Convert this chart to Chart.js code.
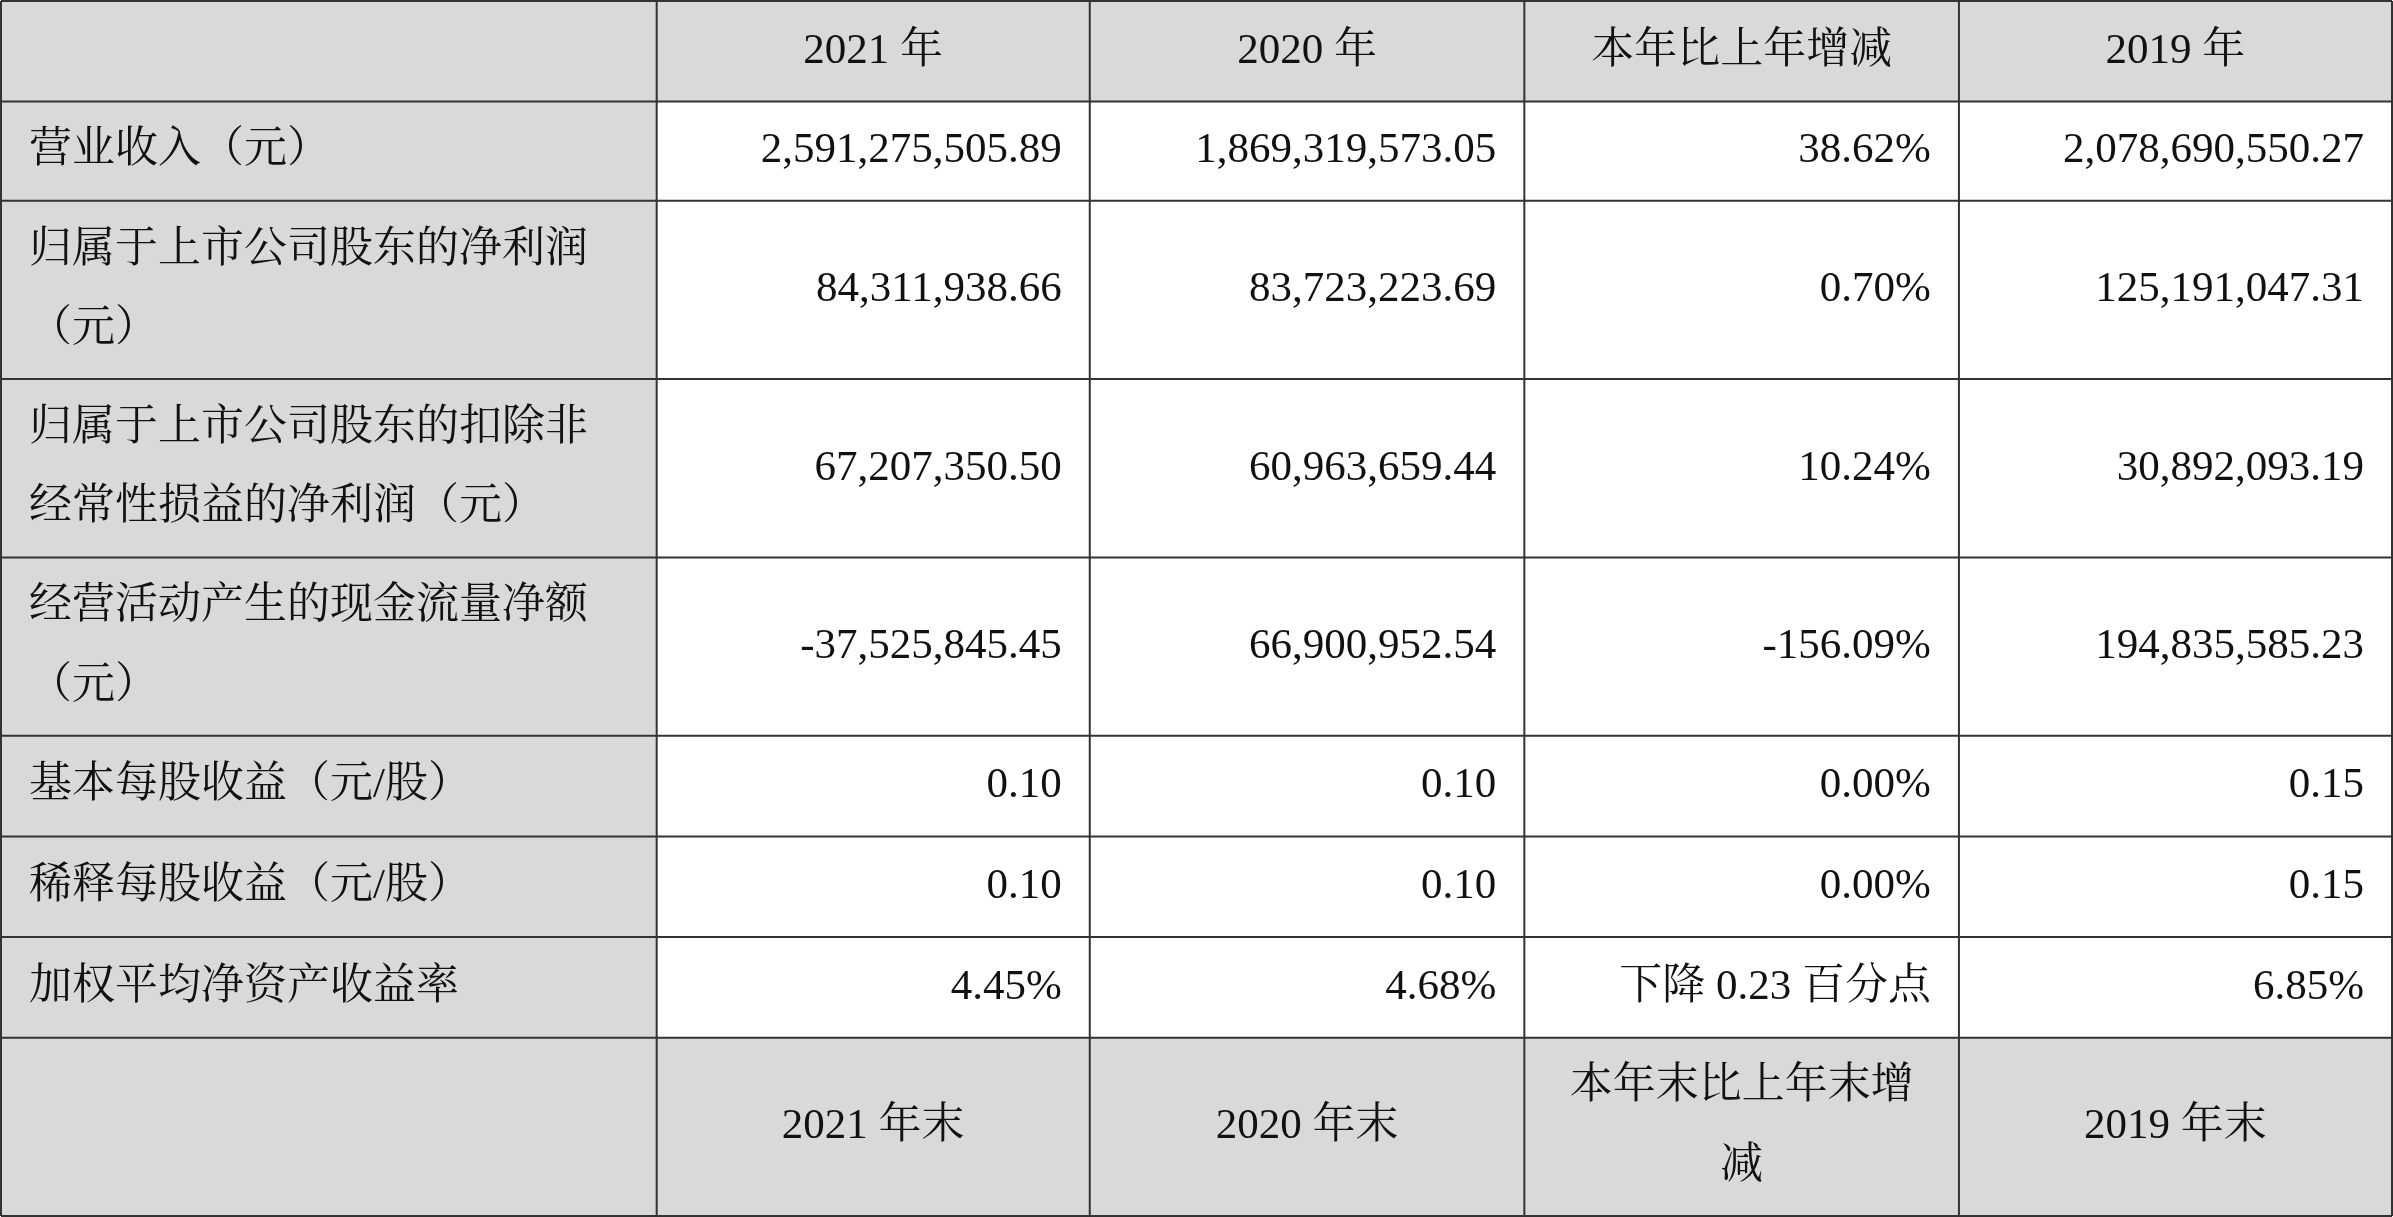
<!DOCTYPE html>
<html>
<head>
<meta charset="utf-8">
<script src="https://cdn.jsdelivr.net/npm/chart.js@4"></script>
<style>
  html, body { margin: 0; padding: 0; background: #fff; }
  #wrap { width: 2393px; height: 1217px; }
</style>
</head>
<body>
<div id="wrap"><canvas id="tableChart"></canvas></div>
<script>
const headers = ["", "2021 年", "2020 年", "本年比上年增减", "2019 年"];
const rowLabels = [
  ["营业收入（元）"],
  ["归属于上市公司股东的净利润", "（元）"],
  ["归属于上市公司股东的扣除非", "经常性损益的净利润（元）"],
  ["经营活动产生的现金流量净额", "（元）"],
  ["基本每股收益（元/股）"],
  ["稀释每股收益（元/股）"],
  ["加权平均净资产收益率"],
];
const values2021 = ["2,591,275,505.89", "84,311,938.66", "67,207,350.50", "-37,525,845.45", "0.10", "0.10", "4.45%"];
const values2020 = ["1,869,319,573.05", "83,723,223.69", "60,963,659.44", "66,900,952.54", "0.10", "0.10", "4.68%"];
const changes = ["38.62%", "0.70%", "10.24%", "-156.09%", "0.00%", "0.00%", "下降 0.23 百分点"];
const values2019 = ["2,078,690,550.27", "125,191,047.31", "30,892,093.19", "194,835,585.23", "0.15", "0.15", "6.85%"];
const footerHeaders = [[""], ["2021 年末"], ["2020 年末"], ["本年末比上年末增", "减"], ["2019 年末"]];

// grid edges in reference units
const colEdges = [0, 430, 714, 999, 1284, 1568];
const rowEdges = [0, 66, 131, 248, 365, 482, 548, 614, 680, 797];

function buildRows() {
  const rows = [headers.map((h) => [h])];
  rowLabels.forEach((label, i) => {
    rows.push([label, [values2021[i]], [values2020[i]], [changes[i]], [values2019[i]]]);
  });
  rows.push(footerHeaders);
  return rows;
}

const tablePlugin = {
  id: "tablePlugin",
  afterDraw(chart) {
    const { ctx, scales } = chart;
    const x = scales.x, y = scales.y;
    const rows = buildRows();
    const fontPx = 43;
    const lineGap = 52 * (y.getPixelForValue(1) - y.getPixelForValue(0));
    ctx.save();
    rows.forEach((row, r) => {
      const header = r === 0 || r === rows.length - 1;
      const y0 = y.getPixelForValue(rowEdges[r]);
      const y1 = y.getPixelForValue(rowEdges[r + 1]);
      row.forEach((lines, c) => {
        const x0 = x.getPixelForValue(colEdges[c]);
        const x1 = x.getPixelForValue(colEdges[c + 1]);
        ctx.fillStyle = header || c === 0 ? "#d9d9d9" : "#ffffff";
        ctx.fillRect(x0, y0, x1 - x0, y1 - y0);
        ctx.fillStyle = "#111";
        ctx.font = fontPx + 'px "Liberation Serif", "Noto Serif CJK SC", "Noto Sans CJK SC", serif';
        ctx.textBaseline = "middle";
        const mid = (y0 + y1) / 2;
        lines.forEach((t, k) => {
          const ty = mid + (k - (lines.length - 1) / 2) * lineGap;
          if (header) {
            ctx.textAlign = "center";
            ctx.fillText(t, (x0 + x1) / 2, ty);
          } else if (c === 0) {
            ctx.textAlign = "left";
            ctx.fillText(t, x0 + 28, ty);
          } else {
            ctx.textAlign = "right";
            ctx.fillText(t, x1 - 28, ty);
          }
        });
      });
    });
    ctx.strokeStyle = "#333";
    ctx.lineWidth = 2;
    ctx.beginPath();
    colEdges.forEach((v) => {
      const px = x.getPixelForValue(v);
      ctx.moveTo(px, y.getPixelForValue(0));
      ctx.lineTo(px, y.getPixelForValue(797));
    });
    rowEdges.forEach((v) => {
      const py = y.getPixelForValue(v);
      ctx.moveTo(x.getPixelForValue(0), py);
      ctx.lineTo(x.getPixelForValue(1568), py);
    });
    ctx.stroke();
    ctx.restore();
  },
};

function createTableChart() {
  const ctx = document.getElementById("tableChart");
  if (!ctx) return;
  return new Chart(ctx, {
    type: "scatter",
    data: { datasets: [{ data: [] }] },
    options: {
      responsive: true,
      maintainAspectRatio: false,
      animation: false,
      layout: { padding: 1 },
      plugins: { legend: { display: false }, tooltip: { enabled: false } },
      scales: {
        x: { type: "linear", min: 0, max: 1568, display: false },
        y: { type: "linear", min: 0, max: 797, reverse: true, display: false },
      },
    },
    plugins: [tablePlugin],
  });
}

document.addEventListener("DOMContentLoaded", createTableChart);
</script>
</body>
</html>
